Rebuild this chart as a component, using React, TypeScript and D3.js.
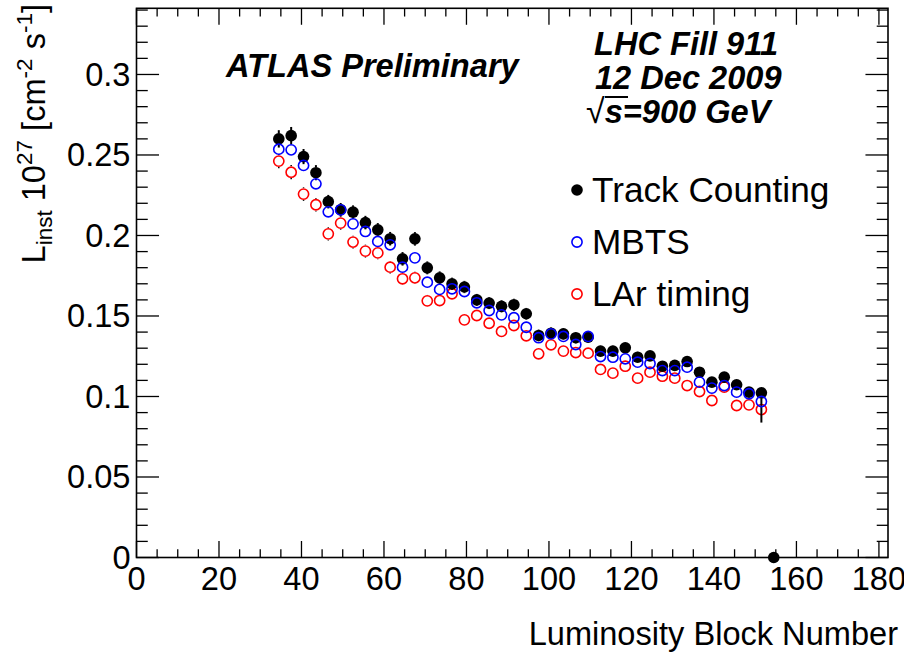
import React from "react";
import * as d3 from "d3";

// ---------- data ----------
const lumiBlocks = [
  34.5, 37.5, 40.5, 43.5, 46.5, 49.5, 52.5, 55.5, 58.5, 61.5,
  64.5, 67.5, 70.5, 73.5, 76.5, 79.5, 82.5, 85.5, 88.5, 91.5,
  94.5, 97.5, 100.5, 103.5, 106.5, 109.5, 112.5, 115.5, 118.5, 121.5,
  124.5, 127.5, 130.5, 133.5, 136.5, 139.5, 142.5, 145.5, 148.5, 151.5,
  154.5,
];

const trackCounting = [
  0.260, 0.262, 0.249, 0.239, 0.221, 0.216, 0.2145, 0.208, 0.2035, 0.198,
  0.1855, 0.1979, 0.1799, 0.1737, 0.170, 0.168, 0.160, 0.158, 0.156, 0.157,
  0.1514, 0.1379, 0.1393, 0.1389, 0.1365, 0.1368, 0.1282, 0.1282, 0.1302, 0.1244,
  0.1252, 0.1188, 0.1193, 0.1217, 0.1151, 0.1089, 0.1120, 0.1073, 0.1027, 0.1023,
  0,
];
const trackErrLow = [
  0.0054, 0.0054, 0.0047, 0.0047, 0.0042, 0.0042, 0.0042, 0.0042, 0.0042, 0.0042,
  0.0042, 0.0042, 0.004, 0.004, 0.0038, 0.0038, 0.0037, 0.0037, 0.0037, 0.0037,
  0.0036, 0.0036, 0.0036, 0.0035, 0.0035, 0.0035, 0.0034, 0.0034, 0.0034, 0.0034,
  0.0033, 0.0033, 0.0033, 0.0033, 0.0032, 0.0032, 0.0032, 0.0032, 0.0032, 0.0185,
  0,
];
const trackErrHigh = [
  0.0054, 0.0054, 0.0047, 0.0047, 0.0042, 0.0042, 0.0042, 0.0042, 0.0042, 0.0042,
  0.0042, 0.0042, 0.004, 0.004, 0.0038, 0.0038, 0.0037, 0.0037, 0.0037, 0.0037,
  0.0036, 0.0036, 0.0036, 0.0035, 0.0035, 0.0035, 0.0034, 0.0034, 0.0034, 0.0034,
  0.0033, 0.0033, 0.0033, 0.0033, 0.0032, 0.0032, 0.0032, 0.0032, 0.0032, 0.0,
  0,
];

const mbts = [
  0.2536, 0.2532, 0.2435, 0.2321, 0.2147, 0.2159, 0.2072, 0.2025, 0.1963, 0.1942,
  0.1803, 0.1861, 0.1710, 0.1665, 0.1669, 0.1652, 0.1582, 0.1534, 0.1507, 0.1489,
  0.1430, 0.1365, 0.1389, 0.1373, 0.1323, 0.1373, 0.1248, 0.1244, 0.1234, 0.1213,
  0.1205, 0.1161, 0.1161, 0.1182, 0.1089, 0.1052, 0.1068, 0.1027, 0.1017, 0.0969,
];

const larTiming = [
  0.2462, 0.2393, 0.2257, 0.2191, 0.2010, 0.2077, 0.1959, 0.1903, 0.1892, 0.1803,
  0.1731, 0.1737, 0.1594, 0.1596, 0.1638, 0.1476, 0.1503, 0.1455, 0.1404, 0.1441,
  0.1377, 0.1265, 0.1321, 0.1282, 0.1273, 0.1269, 0.1168, 0.1145, 0.1188, 0.1114,
  0.1151, 0.1126, 0.1114, 0.1068, 0.1031, 0.0975, 0.1058, 0.0944, 0.0948, 0.0919,
];
const larErr = [
  0.0044, 0.0044, 0.0042, 0.0042, 0.0041, 0.0041, 0.0040, 0.0040, 0.0039, 0.0039,
  0.0038, 0.0038, 0.0037, 0.0037, 0.0037, 0.0036, 0.0036, 0.0036, 0.0035, 0.0035,
  0.0035, 0.0034, 0.0034, 0.0034, 0.0034, 0.0034, 0.0033, 0.0033, 0.0033, 0.0033,
  0.0033, 0.0032, 0.0032, 0.0032, 0.0032, 0.0032, 0.0032, 0.0032, 0.0032, 0.0032,
];

const xMajorTicks = [0, 20, 40, 60, 80, 100, 120, 140, 160, 180];
const yMajorTicks = [0, 0.05, 0.1, 0.15, 0.2, 0.25, 0.3];
const yTickLabels = ["0", "0.05", "0.1", "0.15", "0.2", "0.25", "0.3"];

const legendLabels = ["Track Counting", "MBTS", "LAr timing"];
const infoLines = ["LHC Fill 911", "12 Dec 2009", "s=900 GeV"];

// ---------- layout ----------
const W = 904;
const H = 652;
const frame = { left: 136.5, right: 888, top: 8.3, bottom: 557.5 };
const FONT = "'Liberation Sans', Arial, Helvetica, sans-serif";
const FS = 32.6;

export default function App() {
  const x = d3.scaleLinear().domain([0, 182.2]).range([frame.left, frame.right]);
  const y = d3.scaleLinear().domain([0, 0.3411]).range([frame.bottom, frame.top]);

  const plotW = frame.right - frame.left;
  const plotH = frame.bottom - frame.top;
  const xTickLen = 0.03 * plotH;
  const yTickLen = 0.03 * plotW;

  const xMinor = d3.range(0, 182.2, 5);
  const yMinor = d3.range(0, 0.341, 0.01);

  const r = 5.8;
  const ro = 5.1;

  // error bar segments drawn only outside the marker (ROOT style)
  const errSegs = (
    cx: number,
    v: number,
    lo: number,
    hi: number,
    rad: number,
    key: string
  ) => {
    const cy = y(v);
    const yLo = y(v - lo);
    const yHi = y(v + hi);
    const out: React.ReactNode[] = [];
    if (yLo > cy + rad) out.push(<line key={key + "l"} x1={cx} x2={cx} y1={cy + rad} y2={yLo} />);
    if (yHi < cy - rad) out.push(<line key={key + "h"} x1={cx} x2={cx} y1={cy - rad} y2={yHi} />);
    return out;
  };

  return (
    <svg
      width={W}
      height={H}
      style={{ position: "absolute", left: 0, top: 0, background: "#fff" }}
      fontFamily={FONT}
    >
      <rect x={0} y={0} width={W} height={H} fill="#fff" />

      {/* ticks */}
      <g stroke="#000" strokeWidth={1.3}>
        {xMinor.map((v, i) => {
          const major = xMajorTicks.includes(v);
          const len = major ? xTickLen : xTickLen / 2;
          return (
            <g key={"xm" + i}>
              <line x1={x(v)} x2={x(v)} y1={frame.bottom} y2={frame.bottom - len} />
              <line x1={x(v)} x2={x(v)} y1={frame.top} y2={frame.top + len} />
            </g>
          );
        })}
        {yMinor.map((v, i) => {
          const major = i % 5 === 0;
          const len = major ? yTickLen : yTickLen / 2;
          return (
            <g key={"ym" + i}>
              <line x1={frame.left} x2={frame.left + len} y1={y(v)} y2={y(v)} />
              <line x1={frame.right} x2={frame.right - len} y1={y(v)} y2={y(v)} />
            </g>
          );
        })}
      </g>

      {/* frame */}
      <rect
        x={frame.left}
        y={frame.top}
        width={plotW}
        height={plotH}
        fill="none"
        stroke="#000"
        strokeWidth={1.6}
      />

      {/* tick labels */}
      <g fontSize={FS} fill="#000">
        {xMajorTicks.map((v) => (
          <text key={"xl" + v} x={x(v)} y={frame.bottom + 32} textAnchor="middle">
            {v}
          </text>
        ))}
        {yMajorTicks.map((v, i) => (
          <text
            key={"yl" + i}
            x={frame.left - 6}
            y={y(v) + 11.5}
            textAnchor="end"
          >
            {yTickLabels[i]}
          </text>
        ))}
      </g>

      {/* axis titles */}
      <text x={898} y={645} fontSize={FS} textAnchor="end">
        Luminosity Block Number
      </text>
      <text
        transform="translate(45,4) rotate(-90)"
        fontSize={FS}
        textAnchor="end"
      >
        L
        <tspan dy={7} fontSize={22.5}>inst</tspan>
        <tspan dy={-7}> 10</tspan>
        <tspan dy={-13} fontSize={22.5}>27</tspan>
        <tspan dy={13}> [cm</tspan>
        <tspan dy={-13} fontSize={22.5}>-2</tspan>
        <tspan dy={13}> s</tspan>
        <tspan dy={-13} fontSize={22.5}>-1</tspan>
        <tspan dy={13}>]</tspan>
      </text>

      {/* LAr error bars (black) + markers */}
      <g stroke="#000" strokeWidth={1.5}>
        {larTiming.map((v, i) =>
          errSegs(x(lumiBlocks[i]), v, larErr[i], larErr[i], ro + 0.8, "le" + i)
        )}
      </g>
      <g fill="none" stroke="#ff0000" strokeWidth={1.6}>
        {larTiming.map((v, i) => (
          <circle key={"lm" + i} cx={x(lumiBlocks[i])} cy={y(v)} r={ro} />
        ))}
      </g>

      {/* Track counting error bars + markers */}
      <g stroke="#000" strokeWidth={2}>
        {trackCounting.map((v, i) =>
          errSegs(x(lumiBlocks[i]), v, trackErrLow[i], trackErrHigh[i], r - 0.5, "te" + i)
        )}
      </g>
      <g fill="#000">
        {trackCounting.map((v, i) => (
          <circle key={"tm" + i} cx={x(lumiBlocks[i])} cy={y(v)} r={r} />
        ))}
      </g>

      {/* MBTS markers */}
      <g fill="none" stroke="#0000ff" strokeWidth={1.6}>
        {mbts.map((v, i) => (
          <circle key={"mm" + i} cx={x(lumiBlocks[i])} cy={y(v)} r={ro} />
        ))}
      </g>

      {/* ATLAS label */}
      <text
        x={226}
        y={77}
        fontSize={FS}
        fontWeight="bold"
        fontStyle="italic"
      >
        ATLAS Preliminary
      </text>

      {/* info block */}
      <g fontSize={FS} fontWeight="bold" fontStyle="italic">
        <text x={594} y={55}>{infoLines[0]}</text>
        <text x={595} y={89}>{infoLines[1]}</text>
        <text x={586} y={123}>
          <tspan fontWeight="normal" fontStyle="normal" fontSize={34}>√</tspan>
          <tspan>{infoLines[2]}</tspan>
        </text>
        <line x1={605} x2={628} y1={97} y2={97} stroke="#000" strokeWidth={2} />
      </g>

      {/* legend */}
      <g fontSize={35.2}>
        <circle cx={577} cy={190} r={r} fill="#000" />
        <text x={592} y={202}>{legendLabels[0]}</text>
        <circle cx={577} cy={242} r={ro} fill="none" stroke="#0000ff" strokeWidth={1.6} />
        <text x={592} y={254}>{legendLabels[1]}</text>
        <circle cx={577} cy={294} r={ro} fill="none" stroke="#ff0000" strokeWidth={1.6} />
        <text x={592} y={306}>{legendLabels[2]}</text>
      </g>
    </svg>
  );
}
